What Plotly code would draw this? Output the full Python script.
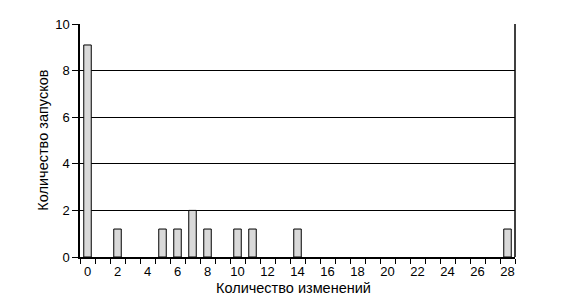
import plotly.graph_objects as go

changes = [0, 2, 5, 6, 7, 8, 10, 11, 14, 28]
runs = [9.1, 1.2, 1.2, 1.2, 2.0, 1.2, 1.2, 1.2, 1.2, 1.2]
x_ticks = list(range(0, 29, 2))
y_ticks = [0, 2, 4, 6, 8, 10]
x_title = "Количество изменений"
y_title = "Количество запусков"

fig = go.Figure(go.Bar(
    x=changes, y=runs, width=0.5,
    marker=dict(color="#d9d9d9", line=dict(color="black", width=1)),
))

fam = "Liberation Sans, Arial, sans-serif"
tick_font = dict(family=fam, size=13, color="black")
title_font = dict(family=fam, size=14.5, color="black")

fig.update_layout(
    width=586, height=297,
    margin=dict(l=80, r=71, t=24, b=40),
    paper_bgcolor="white", plot_bgcolor="white",
    font=tick_font, showlegend=False,
    xaxis=dict(
        range=[-0.5, 28.5], tickvals=x_ticks, ticktext=[str(v) for v in x_ticks],
        ticks="outside", ticklen=2, tickcolor="rgba(0,0,0,0)",
        tickfont=tick_font, automargin=False,
        showgrid=False, zeroline=False,
        showline=True, linecolor="black", linewidth=1.5, mirror=False,
        minor=dict(tick0=-0.5, dtick=1, ticks="outside", ticklen=5,
                   tickcolor="black", tickwidth=1, showgrid=False),
    ),
    yaxis=dict(
        range=[0, 10], tickvals=y_ticks, tickfont=tick_font, automargin=False,
        ticks="outside", ticklen=6, tickcolor="black", tickwidth=1,
        showgrid=True, gridcolor="black", gridwidth=1.3,
        zeroline=False, showline=True, linecolor="black", linewidth=1.5,
    ),
)
fig.add_shape(type="line", xref="paper", yref="paper", x0=1, x1=1, y0=0, y1=1,
              line=dict(color="black", width=1.5))
fig.add_annotation(text=x_title, xref="paper", yref="paper", x=0.49, y=-0.135,
                   xanchor="center", yanchor="middle", showarrow=False,
                   borderpad=0, font=title_font)
fig.add_annotation(text=y_title, xref="paper", yref="paper", x=-0.087, y=0.5,
                   xanchor="center", yanchor="middle", textangle=-90,
                   showarrow=False, borderpad=0, font=title_font)

fig.write_html("out.html")
